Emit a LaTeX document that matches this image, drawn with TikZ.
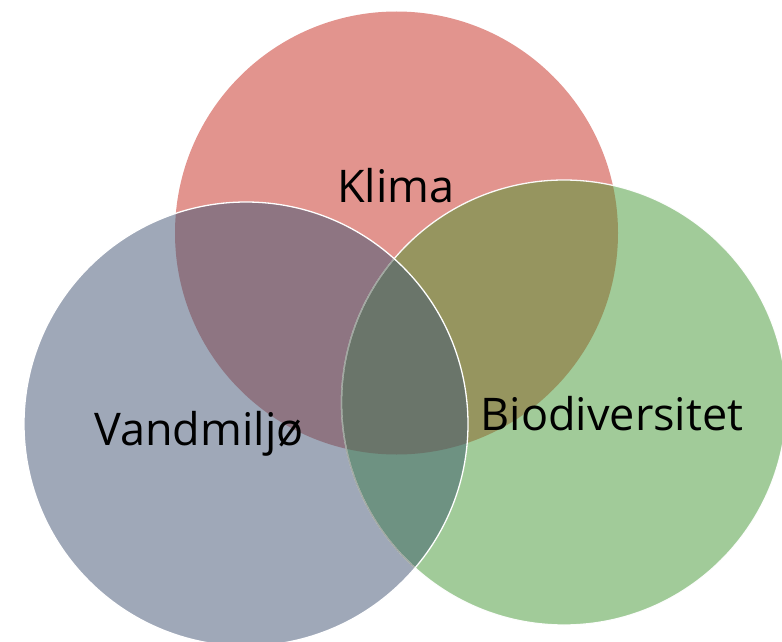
\documentclass[tikz,border=0pt]{standalone}
\usepackage{fontspec}
\setmainfont{Open Sans}
\definecolor{cred}{HTML}{E2948E}
\definecolor{cblue}{HTML}{9FA8B8}
\definecolor{cgreen}{HTML}{A1CB99}
\definecolor{crb}{HTML}{8E7582}
\definecolor{crg}{HTML}{96955F}
\definecolor{cbg}{HTML}{6E9282}
\definecolor{crbg}{HTML}{6A756A}
\tikzset{
  lbl/.style={font=\fontsize{45}{50}\selectfont, text=black, inner sep=0pt},
  edge/.style={draw=white, line width=1.3pt}
}
\begin{document}
\begin{tikzpicture}[x=1pt,y=-1pt]
\useasboundingbox (0,0) rectangle (782,642);
\clip (0,0) rectangle (782,642);
\def\RC{(396.5,233) circle (221.5pt)}
\def\BC{(246,424) circle (222pt)}
\def\GC{(564,402.5) circle (222.5pt)}
% base circles
\fill[cred] \RC;
\fill[cgreen] \GC;
\fill[cblue] \BC;
% pairwise overlaps
\begin{scope}\clip \RC; \fill[crb] \BC; \fill[crg] \GC; \end{scope}
\begin{scope}\clip \BC; \fill[cbg] \GC; \end{scope}
\begin{scope}\clip \RC; \clip \BC; \fill[crbg] \GC; \end{scope}
% outlines
\draw[edge, draw opacity=0.95] \GC;
\begin{scope}\clip \BC; \draw[draw=crbg, line width=1.4pt, draw opacity=0.6] \GC; \end{scope}
\draw[edge] \BC;
% labels
\node[lbl] (klima) at (396,186) {Klima};
\node[lbl] (vand) at (199,434) {Vandmiljø};
\node[lbl] (bio) at (612,414) {Biodiversitet};
\end{tikzpicture}
\end{document}
